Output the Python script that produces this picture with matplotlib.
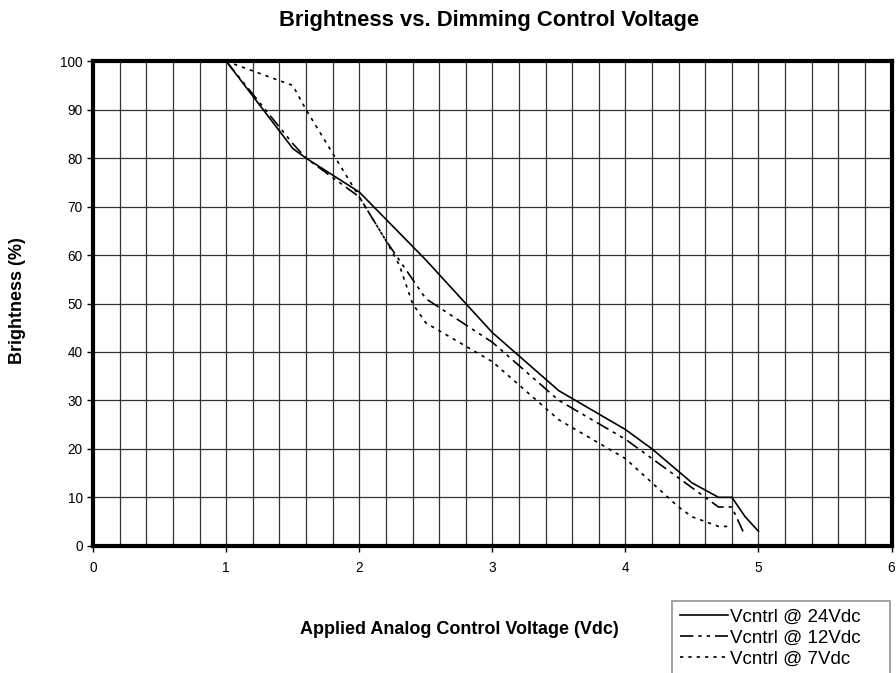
import matplotlib.pyplot as plt
from matplotlib.ticker import MultipleLocator

plt.rcParams["font.family"] = ["Liberation Sans", "DejaVu Sans"]

# Brightness (%) vs applied control voltage (Vdc)
v24_x = [1, 1.5, 1.6, 2, 2.5, 3, 3.5, 4, 4.2, 4.5, 4.7, 4.8, 4.9, 5]
v24_y = [100, 82, 80, 73, 59, 44, 32, 24, 20, 13, 10, 10, 6, 3]

v12_x = [1, 1.5, 1.6, 2, 2.2, 2.4, 2.5, 3, 3.5, 4, 4.5, 4.7, 4.8, 4.9]
v12_y = [100, 83, 80, 72, 63, 55, 51, 42, 30, 22, 12, 8, 8, 2]

v7_x = [1, 1.2, 1.5, 1.6, 1.8, 2, 2.2, 2.3, 2.4, 2.5, 3, 3.5, 4, 4.2, 4.4, 4.5, 4.7, 4.8]
v7_y = [100, 98, 95, 90, 81, 72, 63, 58, 50, 46, 38, 26, 18, 13, 8, 6, 4, 4]

labels = ["Vcntrl @ 24Vdc", "Vcntrl @ 12Vdc", "Vcntrl @ 7Vdc"]

fig = plt.figure(figsize=(8.96, 6.73), dpi=100)
ax = fig.add_axes([0.104, 0.189, 0.891, 0.72])

ax.plot(v24_x, v24_y, color="black", lw=1.2, label=labels[0])
ax.plot(v12_x, v12_y, color="black", lw=1.2, dashes=(8, 3, 2, 3, 2, 3), label=labels[1])
ax.plot(v7_x, v7_y, color="black", lw=1.2, dashes=(2, 3), label=labels[2])

ax.set_xlim(0, 6)
ax.set_ylim(0, 100)
ax.xaxis.set_major_locator(MultipleLocator(1))
ax.xaxis.set_minor_locator(MultipleLocator(0.2))
ax.yaxis.set_major_locator(MultipleLocator(10))
ax.grid(which="both", color="#333333", lw=0.9)
ax.set_axisbelow(True)
ax.tick_params(which="major", length=4, width=1, labelsize=9.8, direction="out")
ax.tick_params(axis="x", which="major", pad=7)
ax.tick_params(which="minor", length=0)
for s in ax.spines.values():
    s.set_linewidth(3)

fig.text(0.546, 0.969, "Brightness vs. Dimming Control Voltage", ha="center", va="center",
         fontsize=15.8, fontweight="bold")
fig.text(0.513, 0.065, "Applied Analog Control Voltage (Vdc)", ha="center", va="center",
         fontsize=13, fontweight="bold")
fig.text(0.02, 0.554, "Brightness (%)", ha="center", va="center", rotation=90,
         fontsize=13, fontweight="bold")

top = 1 - 601 / 673
leg = fig.legend(loc="upper left", bbox_to_anchor=(672 / 896, 0, 218 / 896, top),
                 bbox_transform=fig.transFigure, mode="expand", frameon=True,
                 fontsize=13.5, handlelength=2.6, handletextpad=0.1, labelspacing=0.2,
                 borderpad=0.4, borderaxespad=0, fancybox=False)
leg.get_frame().set_edgecolor("#777777")
leg.get_frame().set_linewidth(1.2)

fig.savefig("out.png", dpi=100)
